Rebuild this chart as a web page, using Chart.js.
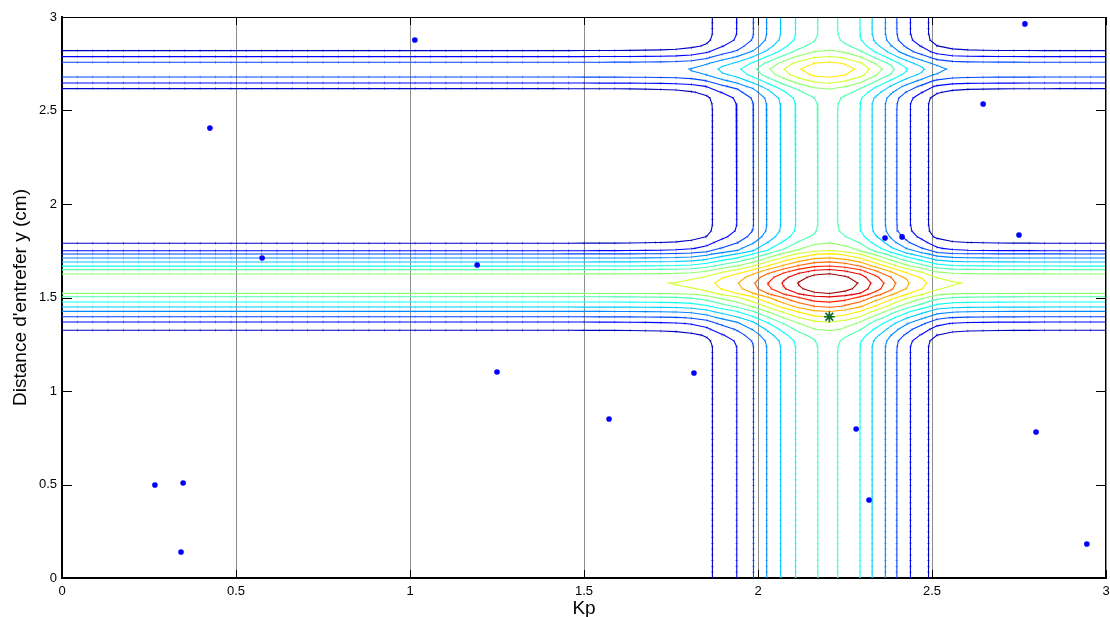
<!DOCTYPE html>
<html>
<head>
<meta charset="utf-8">
<script src="https://cdn.jsdelivr.net/npm/chart.js@4.4.1/dist/chart.umd.min.js"></script>
<style>
  html, body { margin: 0; padding: 0; background: #fff; }
  #wrap { width: 1110px; height: 617px; position: relative; }
</style>
</head>
<body>
<div id="wrap"><canvas id="c"></canvas></div>
<script>
// Cost profile along Kp: position and contour-level value at that position.
const kpProfilePos = [0, 1.40, 1.62, 1.718, 1.770, 1.795, 1.805, 1.829, 1.849, 1.869, 1.939, 1.987, 2.025, 2.065, 2.108, 2.172, 2.200,
                      2.229, 2.293, 2.328, 2.366, 2.399, 2.438, 2.490, 2.505, 2.520, 2.546, 2.570, 2.603, 2.680, 2.900, 3];
const kpProfileVal = [0, 0, 0.02, 0.07, 0.13, 0.20, 0.25, 0.38, 0.60, 1, 2, 3, 4, 5, 6, 7, 7.04,
                      7, 6, 5, 4, 3, 2, 1, 0.60, 0.40, 0.20, 0.12, 0.07, 0.02, 0, 0];

// Cost profile along the air-gap distance y (two ridges: ~1.57 cm and ~2.72 cm).
const gapProfilePos = [0, 1.205, 1.250, 1.275, 1.295, 1.310, 1.325, 1.369, 1.397, 1.426, 1.449, 1.476, 1.504, 1.522, 1.548, 1.574,
                       1.600, 1.626, 1.649, 1.668, 1.690, 1.711, 1.733, 1.750, 1.790, 1.805, 1.820, 1.840, 1.865, 1.910,
                       2.500, 2.542, 2.567, 2.587, 2.602, 2.617, 2.647, 2.679, 2.697, 2.7185, 2.740, 2.758, 2.788, 2.820,
                       2.835, 2.850, 2.870, 2.895, 2.940, 3];
const gapProfileVal = [0, 0, 0.03, 0.15, 0.45, 0.75, 1, 2, 3, 4, 5, 6, 7, 8, 8.70, 8.93,
                       8.70, 8, 7, 6, 5, 4, 3, 2, 1, 0.75, 0.45, 0.15, 0.03, 0,
                       0, 0.03, 0.15, 0.45, 0.75, 1, 2, 3, 3.55, 3.80, 3.55, 3, 2, 1,
                       0.75, 0.45, 0.15, 0.03, 0, 0];

const contourLevels = [1, 2, 3, 4, 5, 6, 7, 8, 9, 10, 11, 12, 13, 14, 15];
// top of the colour scale (in level units)
const colourTop = 15.5;

// Swarm particles
const particleKp = [0.267, 0.348, 0.342, 0.425, 0.575, 1.014, 1.193, 1.250, 1.572, 1.816, 2.282, 2.319, 2.365, 2.414, 2.647, 2.750, 2.767, 2.799, 2.945];
const particleY  = [0.497, 0.508, 0.139, 2.406, 1.711, 2.877, 1.674, 1.102, 0.850, 1.096, 0.797, 0.417, 1.818, 1.824, 2.535, 1.834, 2.963, 0.781, 0.182];
// Best position found
const bestKp = [2.205];
const bestY  = [1.397];

const xTickValues = [0, 0.5, 1, 1.5, 2, 2.5, 3];
const xTickLabels = ['0', '0.5', '1', '1.5', '2', '2.5', '3'];
const yTickValues = [0, 0.5, 1, 1.5, 2, 2.5, 3];
const yTickLabels = ['0', '0.5', '1', '1.5', '2', '2.5', '3'];
const xTitle = 'Kp';
const yTitle = "Distance d'entrefer y (cm)";

// ---- contour extraction (marching squares on the evaluation grid) ----
const NX = 69, NY = 98;
const gx = Array.from({length: NX}, (_, i) => 3 * i / (NX - 1));
const gy = Array.from({length: NY}, (_, j) => 3 * j / (NY - 1));

function profileAt(pos, val, t) {
  if (t <= pos[0]) return val[0];
  for (let k = 1; k < pos.length; k++) {
    if (t <= pos[k]) {
      const u = (t - pos[k - 1]) / (pos[k] - pos[k - 1]);
      return val[k - 1] + u * (val[k] - val[k - 1]);
    }
  }
  return val[val.length - 1];
}
const costAt = (x, y) => profileAt(kpProfilePos, kpProfileVal, x) + profileAt(gapProfilePos, gapProfileVal, y);

// crossing of the cost with a level on a grid edge (bisection on the exact cost)
function solveEdge(x0, y0, x1, y1, L) {
  let lo = 0, hi = 1;
  const f0 = costAt(x0, y0) > L;
  for (let it = 0; it < 40; it++) {
    const m = (lo + hi) / 2;
    if ((costAt(x0 + (x1 - x0) * m, y0 + (y1 - y0) * m) > L) === f0) lo = m; else hi = m;
  }
  const m = (lo + hi) / 2;
  return {x: x0 + (x1 - x0) * m, y: y0 + (y1 - y0) * m};
}

const F = gx.map(x => gy.map(y => costAt(x, y)));

function contourLines(L) {
  const pts = {};
  const segs = [];
  const up = (i, j) => F[i][j] > L;
  const hKey = (i, j) => {
    const k = 'h' + i + '_' + j;
    if (!pts[k]) pts[k] = solveEdge(gx[i], gy[j], gx[i + 1], gy[j], L);
    return k;
  };
  const vKey = (i, j) => {
    const k = 'v' + i + '_' + j;
    if (!pts[k]) pts[k] = solveEdge(gx[i], gy[j], gx[i], gy[j + 1], L);
    return k;
  };
  for (let i = 0; i < NX - 1; i++) {
    for (let j = 0; j < NY - 1; j++) {
      const a0 = up(i, j), a1 = up(i + 1, j), a2 = up(i + 1, j + 1), a3 = up(i, j + 1);
      const eb = a0 !== a1, er = a1 !== a2, et = a3 !== a2, el = a0 !== a3;
      const n = eb + er + et + el;
      if (n === 0) continue;
      if (n === 2) {
        const keys = [];
        if (eb) keys.push(hKey(i, j));
        if (er) keys.push(vKey(i + 1, j));
        if (et) keys.push(hKey(i, j + 1));
        if (el) keys.push(vKey(i, j));
        segs.push(keys);
      } else {
        const c = (F[i][j] + F[i + 1][j] + F[i + 1][j + 1] + F[i][j + 1]) / 4 > L;
        const B = hKey(i, j), R = vKey(i + 1, j), T = hKey(i, j + 1), Lf = vKey(i, j);
        const aroundOdd = a0 ? c : !c;
        if (aroundOdd) { segs.push([B, R]); segs.push([T, Lf]); }
        else { segs.push([B, Lf]); segs.push([R, T]); }
      }
    }
  }
  const adj = {};
  segs.forEach((s, idx) => {
    (adj[s[0]] = adj[s[0]] || []).push(idx);
    (adj[s[1]] = adj[s[1]] || []).push(idx);
  });
  const used = new Array(segs.length).fill(false);
  const lines = [];
  for (let idx = 0; idx < segs.length; idx++) {
    if (used[idx]) continue;
    used[idx] = true;
    const chain = [segs[idx][0], segs[idx][1]];
    let cur = chain[chain.length - 1];
    for (;;) {
      const nx = (adj[cur] || []).find(q => !used[q]);
      if (nx === undefined) break;
      used[nx] = true;
      cur = segs[nx][0] === cur ? segs[nx][1] : segs[nx][0];
      chain.push(cur);
    }
    cur = chain[0];
    for (;;) {
      const nx = (adj[cur] || []).find(q => !used[q]);
      if (nx === undefined) break;
      used[nx] = true;
      cur = segs[nx][0] === cur ? segs[nx][1] : segs[nx][0];
      chain.unshift(cur);
    }
    lines.push(chain.map(k => ({x: pts[k].x, y: pts[k].y})));
  }
  return lines;
}

function jet(t) {
  const cl = v => Math.max(0, Math.min(1, v));
  const r = cl(1.5 - Math.abs(4 * t - 3));
  const g = cl(1.5 - Math.abs(4 * t - 2));
  const b = cl(1.5 - Math.abs(4 * t - 1));
  return [r, g, b].map(v => Math.round(v * 255));
}

// small perpendicular tick at every contour vertex
function tickRotation(ctx) {
  const d = ctx.dataset.data, k = ctx.dataIndex;
  const p0 = d[Math.max(0, k - 1)], p1 = d[Math.min(d.length - 1, k + 1)];
  const sx = ctx.chart.scales.x, sy = ctx.chart.scales.y;
  const dx = sx.getPixelForValue(p1.x) - sx.getPixelForValue(p0.x);
  const dy = sy.getPixelForValue(p1.y) - sy.getPixelForValue(p0.y);
  return Math.atan2(dy, dx) * 180 / Math.PI + 90;
}

const datasets = [
  {
    type: 'scatter', label: 'best', data: bestKp.map((x, i) => ({x, y: bestY[i]})),
    pointStyle: 'star', pointRadius: 5.5, borderColor: '#0b6b24', backgroundColor: '#0b6b24', borderWidth: 1.6
  },
  {
    type: 'scatter', label: 'best-core', data: bestKp.map((x, i) => ({x, y: bestY[i]})),
    pointStyle: 'circle', pointRadius: 2.2, borderWidth: 0, backgroundColor: '#0a4d1a'
  },
  {
    type: 'scatter', label: 'particles', data: particleKp.map((x, i) => ({x, y: particleY[i]})),
    pointStyle: 'circle', pointRadius: 2.8, borderWidth: 0, backgroundColor: '#0000ff'
  }
];

for (const L of contourLevels) {
  const [r, g, b] = jet(L / colourTop);
  const col = `rgb(${r},${g},${b})`;
  const tick = `rgba(${r},${g},${b},0.45)`;
  for (const line of contourLines(L)) {
    datasets.push({
      type: 'line', label: 'level ' + L, data: line,
      borderColor: col, borderWidth: 1.1, fill: false, tension: 0,
      pointStyle: 'line', pointRadius: 1.4, pointBorderColor: tick, pointBorderWidth: 1,
      pointRotation: tickRotation, pointHoverRadius: 0
    });
  }
}

const FONT = '"Liberation Sans", Arial, Helvetica, sans-serif';
Chart.defaults.font.family = FONT;
Chart.defaults.color = '#000';

const framePlugin = {
  id: 'frame',
  afterDatasetsDraw(chart) {
    const {ctx, chartArea: a, scales: {x, y}} = chart;
    ctx.save();
    ctx.strokeStyle = '#000';
    ctx.lineWidth = 1;
    ctx.beginPath();
    ctx.moveTo(a.left, a.top + 0.5); ctx.lineTo(a.right, a.top + 0.5);
    ctx.moveTo(a.right - 0.5, a.top); ctx.lineTo(a.right - 0.5, a.bottom);
    ctx.stroke();
    ctx.beginPath();
    for (const v of xTickValues) {
      const px = Math.round(x.getPixelForValue(v)) + 0.5;
      ctx.moveTo(px, a.bottom); ctx.lineTo(px, a.bottom - 8);
      ctx.moveTo(px, a.top); ctx.lineTo(px, a.top + 8);
    }
    for (const v of yTickValues) {
      const py = Math.round(y.getPixelForValue(v)) + 0.5;
      ctx.moveTo(a.left, py); ctx.lineTo(a.left + 10, py);
      ctx.moveTo(a.right, py); ctx.lineTo(a.right - 10, py);
    }
    ctx.stroke();
    ctx.fillStyle = '#000';
    ctx.font = '19px ' + FONT;
    ctx.textAlign = 'center';
    ctx.textBaseline = 'alphabetic';
    ctx.fillText(xTitle, (a.left + a.right) / 2, 614);
    ctx.translate(26, (a.top + a.bottom) / 2);
    ctx.rotate(-Math.PI / 2);
    ctx.fillText(yTitle, 0, 0);
    ctx.restore();
  }
};

new Chart(document.getElementById('c'), {
  type: 'scatter',
  data: {datasets},
  plugins: [framePlugin],
  options: {
    responsive: true,
    maintainAspectRatio: false,
    animation: false,
    events: [],
    layout: {autoPadding: false, padding: {top: 17, right: 4, left: 0, bottom: 0}},
    plugins: {legend: {display: false}, tooltip: {enabled: false}},
    scales: {
      x: {
        type: 'linear', min: 0, max: 3,
        afterFit: s => { s.height = 39; s.paddingLeft = 0; s.paddingRight = 0; },
        afterBuildTicks: s => { s.ticks = xTickValues.map(v => ({value: v})); },
        ticks: {
          autoSkip: false, maxRotation: 0, padding: 6,
          font: {size: 13}, color: '#000',
          callback: (v, i) => xTickLabels[i]
        },
        grid: {display: true, drawTicks: false, color: 'rgba(0,0,0,0.45)', lineWidth: 1},
        border: {display: true, color: '#000', width: 2}
      },
      y: {
        type: 'linear', min: 0, max: 3,
        afterFit: s => { s.width = 62; s.paddingTop = 0; s.paddingBottom = 0; },
        afterBuildTicks: s => { s.ticks = yTickValues.map(v => ({value: v})); },
        ticks: {
          autoSkip: false, padding: 5,
          font: {size: 13}, color: '#000',
          callback: (v, i) => yTickLabels[i]
        },
        grid: {display: false, drawTicks: false},
        border: {display: true, color: '#000', width: 2}
      }
    }
  }
});
</script>
</body>
</html>
